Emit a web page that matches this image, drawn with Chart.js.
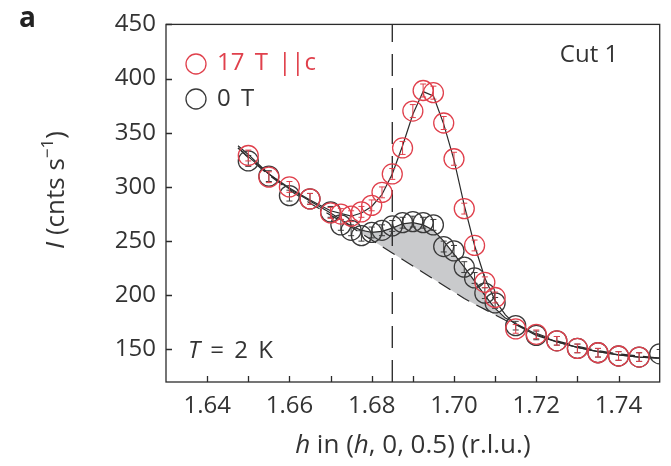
<!DOCTYPE html>
<html>
<head>
<meta charset="utf-8">
<script src="https://cdn.jsdelivr.net/npm/chart.js@4.4.0/dist/chart.umd.min.js"></script>
<style>
  html, body { margin: 0; padding: 0; background: #fff; }
  #wrap { width: 671px; height: 466px; position: relative; }
</style>
</head>
<body>
<div id="wrap"><canvas id="cut1"></canvas></div>
<script>
const redX = [1.65, 1.655, 1.66, 1.665, 1.67, 1.6725, 1.675, 1.6775, 1.68, 1.6825, 1.685, 1.6875, 1.69, 1.6925, 1.695, 1.6975, 1.70, 1.7025, 1.705, 1.7075, 1.71, 1.715, 1.72, 1.725, 1.73, 1.735, 1.74, 1.745];
const redY = [329, 309, 300, 289, 276, 275, 273, 277, 283, 295, 312, 336, 370, 389, 387, 359, 326, 280, 246, 212, 198, 169, 164, 158, 151, 147, 144, 143];
const redErr = [5, 5, 5, 5, 5, 5, 5, 5, 5, 5, 5, 6, 6, 6, 6, 6, 6, 5, 5, 5, 5, 4, 4, 4, 4, 4, 4, 4];

const blackX = [1.65, 1.655, 1.66, 1.665, 1.67, 1.6725, 1.675, 1.6775, 1.68, 1.6825, 1.685, 1.6875, 1.69, 1.6925, 1.695, 1.6975, 1.70, 1.7025, 1.705, 1.7075, 1.71, 1.715, 1.72, 1.725, 1.73, 1.735, 1.74, 1.745, 1.75];
const blackY = [324, 310, 292, 289, 277, 265, 260, 255, 258, 260, 264, 267, 268, 267, 265, 245, 241, 226, 216, 202, 193, 172, 163, 158, 151, 147, 144, 143, 146];
const blackErr = [5, 5, 5, 5, 5, 5, 5, 5, 5, 5, 5, 5, 5, 5, 5, 5, 5, 5, 5, 5, 5, 4, 4, 4, 4, 4, 4, 4, 4];

// Fit curves
const fitX = [1.6475, 1.65, 1.655, 1.66, 1.665, 1.67, 1.675, 1.6775, 1.68, 1.6825, 1.685, 1.6875, 1.69, 1.6925, 1.695, 1.6975, 1.70, 1.7025, 1.705, 1.7075, 1.71, 1.7125, 1.715, 1.72, 1.725, 1.73, 1.735, 1.74, 1.745, 1.75];
const redFit = [338, 330, 312, 299, 288, 278, 273, 276, 282, 293, 312, 338, 367, 388, 384, 358, 325, 283, 246, 216, 195, 182, 173, 163, 157, 152, 148, 145, 143, 142];
const blackFit = [336, 328, 312, 298, 287, 276, 264, 260, 258, 259, 262, 266, 267, 265, 260, 250, 238, 226, 213, 200, 188, 179, 174, 164, 157, 152, 148, 145, 143, 142];
const bgFit = [336, 327, 311, 297, 285, 274, 263, 257, 251, 245, 239, 233, 227, 221, 215, 209, 203, 197, 192, 187, 182, 177, 173, 165, 158, 153, 149, 146, 144, 142];

// Shaded field-induced difference region
const shadeX = [1.675, 1.6775, 1.68, 1.6825, 1.685, 1.6875, 1.69, 1.6925, 1.695, 1.6975, 1.70, 1.7025, 1.705, 1.7075, 1.71, 1.7125];
const shadeY = [264, 260, 258, 259, 262, 266, 267, 265, 260, 250, 238, 226, 213, 200, 188, 179];

const markerX = [1.685, 1.685];
const markerY = [120, 450];

const xTicks = [1.64, 1.66, 1.68, 1.70, 1.72, 1.74];
const xTickLabels = ['1.64', '1.66', '1.68', '1.70', '1.72', '1.74'];
const xMinorTicks = [1.64, 1.65, 1.66, 1.67, 1.68, 1.69, 1.70, 1.71, 1.72, 1.73, 1.74];
const yTicks = [150, 200, 250, 300, 350, 400, 450];
const yTickLabels = ['150', '200', '250', '300', '350', '400', '450'];
const seriesNames = ['17 T ||c', '0 T'];

const RED = '#e0404c';
const DARK = '#3a3a3a';
const FONT = '"Open Sans", "Noto Sans", sans-serif';

const pts = (xs, ys) => xs.map((x, i) => ({ x: x, y: ys[i] }));

// error bars, drawn right after their own dataset
const errorBars = {
    id: 'errorBars',
    afterDatasetDraw(chart, args) {
        const ds = chart.data.datasets[args.index];
        if (!ds.errors) return;
        const ctx = chart.ctx;
        const ys = chart.scales.y;
        const a = chart.chartArea;
        ctx.save();
        ctx.beginPath();
        ctx.rect(a.left, a.top, a.right - a.left, a.bottom - a.top);
        ctx.clip();
        ctx.strokeStyle = ds.borderColor;
        ctx.lineWidth = 1;
        args.meta.data.forEach((p, i) => {
            const v = ds.data[i].y;
            const y1 = ys.getPixelForValue(v + ds.errors[i]);
            const y2 = ys.getPixelForValue(v - ds.errors[i]);
            ctx.beginPath();
            ctx.moveTo(p.x, y1); ctx.lineTo(p.x, y2);
            ctx.moveTo(p.x - 3, y1); ctx.lineTo(p.x + 3, y1);
            ctx.moveTo(p.x - 3, y2); ctx.lineTo(p.x + 3, y2);
            ctx.stroke();
        });
        ctx.restore();
    }
};

// draw text pieces in a row, [text, italic] pairs
function drawRun(ctx, parts, x, y, size, align) {
    let total = 0;
    parts.forEach(p => { ctx.font = (p[1] ? 'italic ' : '') + size + 'px ' + FONT; total += ctx.measureText(p[0]).width; });
    if (align === 'center') x -= total / 2;
    parts.forEach(p => {
        ctx.font = (p[1] ? 'italic ' : '') + size + 'px ' + FONT;
        ctx.fillText(p[0], x, y);
        x += ctx.measureText(p[0]).width;
    });
}

// frame, inward ticks and the annotations
const decorations = {
    id: 'decorations',
    afterDraw(chart) {
        const ctx = chart.ctx;
        const a = chart.chartArea;
        const xs = chart.scales.x, ys = chart.scales.y;
        ctx.save();
        ctx.strokeStyle = '#2b2b2b';
        ctx.lineWidth = 1.3;
        ctx.strokeRect(a.left, a.top, a.right - a.left, a.bottom - a.top);
        ctx.beginPath();
        xMinorTicks.forEach(v => {
            const x = Math.round(xs.getPixelForValue(v)) + 0.5;
            ctx.moveTo(x, a.bottom); ctx.lineTo(x, a.bottom - 6);
        });
        yTicks.forEach(v => {
            const y = Math.round(ys.getPixelForValue(v)) + 0.5;
            ctx.moveTo(a.left, y); ctx.lineTo(a.left + 6, y);
        });
        ctx.stroke();

        ctx.textBaseline = 'middle';
        ctx.fillStyle = '#222';
        ctx.font = 'bold 28px ' + FONT;
        ctx.textAlign = 'left';
        ctx.fillText('a', 19, 19);

        // legend
        ctx.lineWidth = 1.3;
        ctx.strokeStyle = RED;
        ctx.beginPath(); ctx.arc(196, 64, 10, 0, Math.PI * 2); ctx.stroke();
        ctx.strokeStyle = DARK;
        ctx.beginPath(); ctx.arc(196, 99, 10, 0, Math.PI * 2); ctx.stroke();
        ctx.font = '24px ' + FONT;
        ctx.wordSpacing = '4px';
        ctx.fillStyle = RED;
        ctx.fillText(seriesNames[0], 217, 63);
        ctx.fillStyle = '#333';
        ctx.fillText(seriesNames[1], 217, 99);
        ctx.wordSpacing = '0px';

        ctx.textAlign = 'center';
        ctx.font = '24px ' + FONT;
        ctx.fillText('Cut 1', 589, 55);

        // T = 2 K
        ctx.textAlign = 'left';
        ctx.wordSpacing = '4px';
        drawRun(ctx, [['T', true], [' = 2 K', false]], 188, 351, 24, 'left');

        // x title with italic h
        ctx.wordSpacing = '5px';
        drawRun(ctx, [['h', true], [' in (', false], ['h', true], [', 0, 0.5) (r.l.u.)', false]],
            (a.left + a.right) / 2, 446, 26, 'center');

        // y title, rotated
        ctx.translate(57, 190);
        ctx.rotate(-Math.PI / 2);
        const yparts = [['I', 'italic 26px ', 0], [' (cnts s', '26px ', 0], ['\u22121', '17px ', -9], [')', '26px ', 0]];
        let total = 0;
        yparts.forEach(p => { ctx.font = p[1] + FONT; total += ctx.measureText(p[0]).width; });
        let x = -total / 2;
        yparts.forEach(p => {
            ctx.font = p[1] + FONT;
            ctx.fillText(p[0], x, p[2]);
            x += ctx.measureText(p[0]).width;
        });
        ctx.restore();
    }
};

const tickFont = { family: FONT, size: 24 };

new Chart(document.getElementById('cut1'), {
    type: 'scatter',
    data: {
        datasets: [
            {
                label: seriesNames[0],
                data: pts(redX, redY),
                errors: redErr,
                borderColor: RED,
                backgroundColor: 'rgba(0,0,0,0)',
                pointRadius: 10,
                pointBorderWidth: 1.3,
                showLine: false,
                clip: 0,
                order: 1
            },
            {
                label: seriesNames[1],
                data: pts(blackX, blackY),
                errors: blackErr,
                borderColor: DARK,
                backgroundColor: 'rgba(0,0,0,0)',
                pointRadius: 10,
                pointBorderWidth: 1.3,
                showLine: false,
                clip: 0,
                order: 2
            },
            {
                label: 'fit 17 T',
                data: pts(fitX, redFit),
                borderColor: '#2a2a2a',
                borderWidth: 1.2,
                pointRadius: 0,
                showLine: true,
                fill: false,
                order: 3
            },
            {
                label: 'fit 0 T',
                data: pts(fitX, blackFit),
                borderColor: '#2a2a2a',
                borderWidth: 1.2,
                pointRadius: 0,
                showLine: true,
                fill: false,
                order: 3
            },
            {
                label: 'background',
                data: pts(fitX, bgFit),
                borderColor: '#2a2a2a',
                borderWidth: 1.2,
                borderDash: [14, 8],
                pointRadius: 0,
                showLine: true,
                fill: false,
                order: 4
            },
            {
                label: 'shade',
                data: pts(shadeX, shadeY),
                borderWidth: 0,
                borderColor: 'rgba(0,0,0,0)',
                backgroundColor: '#c9cacc',
                pointRadius: 0,
                showLine: true,
                fill: { target: 4, above: '#c9cacc', below: '#c9cacc' },
                order: 6
            },
            {
                label: 'h = 1.685',
                data: pts(markerX, markerY),
                borderColor: '#222',
                borderWidth: 1.3,
                borderDash: [22, 12],
                pointRadius: 0,
                showLine: true,
                fill: false,
                order: 5
            }
        ]
    },
    options: {
        responsive: true,
        maintainAspectRatio: false,
        animation: false,
        devicePixelRatio: 1,
        layout: { padding: { top: 24, right: 4, left: 0, bottom: 0 } },
        plugins: {
            legend: { display: false },
            tooltip: { enabled: false }
        },
        scales: {
            x: {
                type: 'linear',
                min: 1.63,
                max: 1.75,
                grid: { display: false, drawTicks: false },
                border: { display: false },
                afterBuildTicks: s => { s.ticks = xTicks.map(v => ({ value: v })); },
                afterFit: s => { s.height = 84; },
                ticks: {
                    font: tickFont,
                    color: '#333',
                    padding: 10,
                    maxRotation: 0,
                    autoSkip: false,
                    callback: (v, i) => xTickLabels[i]
                }
            },
            y: {
                min: 120,
                max: 450,
                grid: { display: false, drawTicks: false },
                border: { display: false },
                afterBuildTicks: s => { s.ticks = yTicks.map(v => ({ value: v })); },
                afterFit: s => { s.width = 166; },
                ticks: {
                    font: tickFont,
                    color: '#333',
                    padding: 10,
                    autoSkip: false,
                    callback: (v, i) => yTickLabels[i]
                }
            }
        }
    },
    plugins: [errorBars, decorations]
});
</script>
</body>
</html>
